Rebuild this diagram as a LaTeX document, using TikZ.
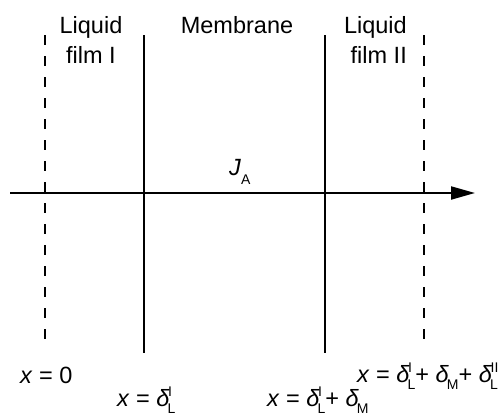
\documentclass[tikz,border=0pt]{standalone}
\usepackage{fontspec}
\setmainfont{Liberation Sans}
\usetikzlibrary{arrows.meta}
\newcommand\subfnt{\fontsize{14}{15}\selectfont}
\newcommand\dd[2]{\textit{δ}\kern-2pt\setbox0\hbox{\subfnt #1}\setbox2\hbox{\subfnt #2}\rlap{\kern0.5pt\raise10pt\copy2}\rlap{\lower7.5pt\copy0}\hskip\ifdim\wd0>\wd2 \wd0\else\wd2\fi\relax}
\begin{document}
\begin{tikzpicture}[x=1pt,y=-1pt,
  lbl/.style={inner sep=0pt,font=\fontsize{23.5}{28}\selectfont},
  solidline/.style={line width=2.6pt},
  dashline/.style={line width=2.3pt,dash pattern=on 10pt off 11pt},
  axis/.style={line width=2pt,-{Triangle[length=24pt,width=13pt]}}]
\useasboundingbox (0,0) rectangle (501,418);
% boundary lines
\coordinate (d1t) at (45,35);  \coordinate (d1b) at (45,348);
\coordinate (s1t) at (144,35); \coordinate (s1b) at (144,353);
\coordinate (s2t) at (325,35); \coordinate (s2b) at (325,353);
\coordinate (d2t) at (424,35); \coordinate (d2b) at (424,348);
\draw[dashline] (d1t) -- (d1b);
\draw[solidline] (s1t) -- (s1b);
\draw[solidline] (s2t) -- (s2b);
\draw[dashline] (d2t) -- (d2b);
% axis
\coordinate (ax0) at (10,193);
\coordinate (ax1) at (475,193);
\draw[axis] (ax0) -- (ax1);
% top labels
\node[lbl,anchor=base] (liq1) at (91,33) {Liquid};
\node[lbl,anchor=base] (film1) at (91,63) {film I};
\node[lbl,anchor=base] (mem) at (237,33) {Membrane};
\node[lbl,anchor=base east] (liq2) at (407,33) {Liquid};
\node[lbl,anchor=base east] (film2) at (407,63) {film II};
% flux
\node[lbl,anchor=base west] (ja) at (229,175) {\textit{J}\lower9pt\hbox{\subfnt A}};
% bottom labels
\node[lbl,anchor=base west] (x0) at (20,383) {\textit{x} = 0};
\node[lbl,anchor=base west] (x1) at (117,406) {\textit{x} = \dd{L}{I}};
\node[lbl,anchor=base west] (x2) at (267,406) {\textit{x} = \dd{L}{I}+ \dd{M}{}};
\node[lbl,anchor=base west] (x3) at (357,382) {\textit{x} = \dd{L}{I}+ \dd{M}{}+ \dd{L}{II}};
\end{tikzpicture}
\end{document}
